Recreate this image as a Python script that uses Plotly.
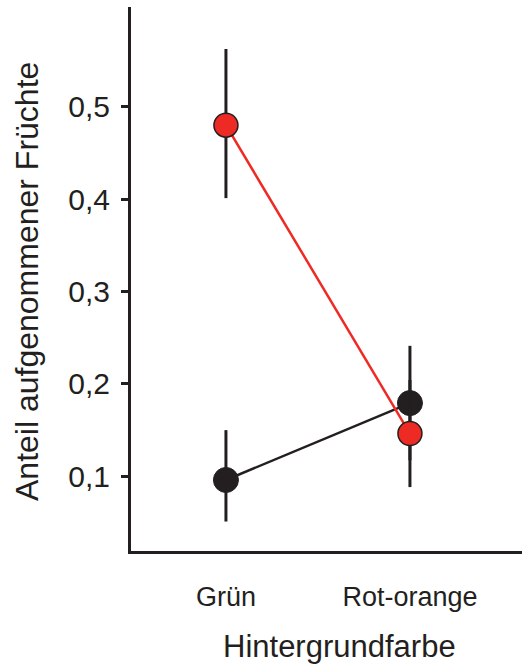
import plotly.graph_objects as go

categories = ["Grün", "Rot-orange"]
red_values = [0.480, 0.146]
red_err_plus = [0.0825, 0.058]
red_err_minus = [0.079, 0.058]
black_values = [0.0957, 0.179]
black_err_plus = [0.054, 0.062]
black_err_minus = [0.045, 0.062]
y_tickvals = [0.1, 0.2, 0.3, 0.4, 0.5]
y_ticktext = ["0,1", "0,2", "0,3", "0,4", "0,5"]

DARK = "#231f20"
RED = "#ee2a24"
TICKFONT = "Liberation Sans, Arial, sans-serif"
TITLEFONT = "Liberation Sans, Arial, sans-serif"

fig = go.Figure()
fig.add_trace(go.Scatter(
    x=[0, 1], y=black_values, mode="lines+markers",
    line=dict(color=DARK, width=2.5),
    marker=dict(color=DARK, size=25, line=dict(color=DARK, width=1)),
    error_y=dict(type="data", symmetric=False, array=black_err_plus,
                 arrayminus=black_err_minus, color=DARK, thickness=3, width=0),
    showlegend=False))
fig.add_trace(go.Scatter(
    x=[0, 1], y=red_values, mode="lines+markers",
    line=dict(color=RED, width=2.5),
    marker=dict(color=RED, size=24, line=dict(color=DARK, width=1.5)),
    error_y=dict(type="data", symmetric=False, array=red_err_plus,
                 arrayminus=red_err_minus, color=DARK, thickness=3, width=0),
    showlegend=False))

fig.update_layout(
    width=522, height=669,
    margin=dict(l=131, r=0, t=7, b=118, pad=0),
    plot_bgcolor="white", paper_bgcolor="white",
    xaxis=dict(range=[-0.516, 1.609], tickvals=[0, 1], ticktext=categories,
               showgrid=False, zeroline=False, showline=True, linecolor=DARK,
               linewidth=3, ticks="outside", ticklen=20, tickcolor="rgba(0,0,0,0)",
               tickfont=dict(family=TICKFONT, size=27, color=DARK)),
    yaxis=dict(range=[0.01877, 0.608], tickvals=y_tickvals, ticktext=y_ticktext,
               showgrid=False, zeroline=False, showline=True, linecolor=DARK,
               linewidth=3, ticks="outside", ticklen=7, tickwidth=2.5, tickcolor=DARK,
               ticklabelstandoff=5,
               tickfont=dict(family=TICKFONT, size=30, color=DARK)),
    annotations=[
        dict(text="Anteil aufgenommener Früchte", textangle=-90,
             xref="paper", yref="paper", x=(27 - 131) / 391, y=(551 - 282) / 544,
             xanchor="center", yanchor="middle", showarrow=False,
             font=dict(family=TITLEFONT, size=32, color=DARK)),
        dict(text="Hintergrundfarbe",
             xref="paper", yref="paper", x=(339 - 131) / 391, y=(551 - 646) / 544,
             xanchor="center", yanchor="middle", showarrow=False,
             font=dict(family=TITLEFONT, size=31, color=DARK)),
    ],
)

fig.write_html("out.html")
